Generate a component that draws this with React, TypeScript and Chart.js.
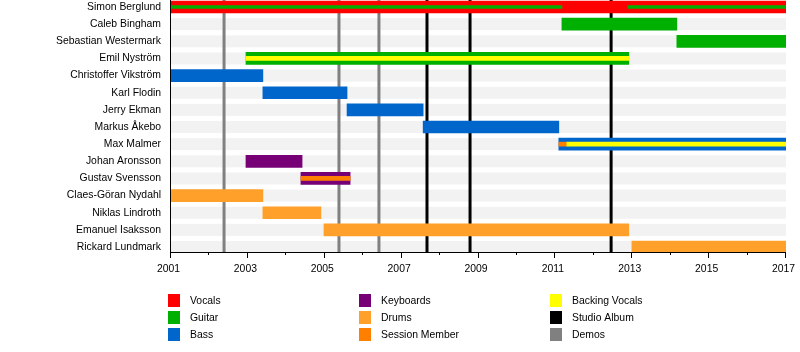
import React, { useEffect, useRef } from "react";
import { Chart, registerables } from "chart.js";

Chart.register(...registerables);

type Row = [string, number, number];

const members = [
  "Simon Berglund",
  "Caleb Bingham",
  "Sebastian Westermark",
  "Emil Nyström",
  "Christoffer Vikström",
  "Karl Flodin",
  "Jerry Ekman",
  "Markus Åkebo",
  "Max Malmer",
  "Johan Aronsson",
  "Gustav Svensson",
  "Claes-Göran Nydahl",
  "Niklas Lindroth",
  "Emanuel Isaksson",
  "Rickard Lundmark",
];

const vocals: Row[] = [["Simon Berglund", 2001, 2017]];
const guitar: Row[] = [
  ["Caleb Bingham", 2011.17, 2014.16],
  ["Sebastian Westermark", 2014.16, 2017],
  ["Emil Nyström", 2002.95, 2012.91],
];
const bass: Row[] = [
  ["Christoffer Vikström", 2001, 2003.39],
  ["Karl Flodin", 2003.39, 2005.58],
  ["Jerry Ekman", 2005.58, 2007.56],
  ["Markus Åkebo", 2007.56, 2011.09],
  ["Max Malmer", 2011.09, 2017],
];
const keyboards: Row[] = [
  ["Johan Aronsson", 2002.95, 2004.41],
  ["Gustav Svensson", 2004.38, 2005.66],
];
const drums: Row[] = [
  ["Claes-Göran Nydahl", 2001, 2003.39],
  ["Niklas Lindroth", 2003.39, 2004.9],
  ["Emanuel Isaksson", 2004.98, 2012.91],
  ["Rickard Lundmark", 2012.99, 2017],
];
const guitarInner: Row[] = [
  ["Simon Berglund", 2001, 2011.17],
  ["Simon Berglund", 2012.89, 2017],
];
const backingVocalsInner: Row[] = [
  ["Emil Nyström", 2002.95, 2012.91],
  ["Max Malmer", 2011.3, 2017],
];
const sessionInner: Row[] = [
  ["Gustav Svensson", 2004.38, 2005.66],
  ["Max Malmer", 2011.09, 2011.3],
];

const studioAlbums = [2007.66, 2008.78, 2012.45];
const demos = [2002.38, 2005.37, 2006.41];

const xTicks = [2001, 2002, 2003, 2004, 2005, 2006, 2007, 2008, 2009, 2010, 2011, 2012, 2013, 2014, 2015, 2016, 2017];
const xTickLabels = ["2001", "", "2003", "", "2005", "", "2007", "", "2009", "", "2011", "", "2013", "", "2015", "", "2017"];

const legendLabels = [
  ["Vocals", "Guitar", "Bass"],
  ["Keyboards", "Drums", "Session Member"],
  ["Backing Vocals", "Studio Album", "Demos"],
];

const COLORS: Record<string, string> = {
  Vocals: "#ff0000",
  Guitar: "#00b000",
  Bass: "#0066cc",
  Keyboards: "#770077",
  Drums: "#ffa02a",
  "Session Member": "#ff8000",
  "Backing Vocals": "#ffff00",
  "Studio Album": "#000000",
  Demos: "#808080",
};

const FONT = "'Liberation Sans', Arial, Helvetica, sans-serif";
const FSIZE = 10.4;

const toData = (rows: Row[]) => rows.map(([n, s, e]) => ({ x: [s, e], y: members.indexOf(n) }));

export default function App() {
  const ref = useRef<HTMLCanvasElement>(null);

  useEffect(() => {
    document.body.style.margin = "0";
    if (!ref.current) return;

    const mainDs = (label: string, rows: Row[]) => ({
      label,
      data: toData(rows),
      backgroundColor: COLORS[label],
      barThickness: 12,
      grouped: false,
      order: 2,
      borderWidth: 0,
    });
    const innerDs = (label: string, rows: Row[], t: number) => ({
      label: label + " (inner)",
      data: toData(rows),
      backgroundColor: COLORS[label],
      barThickness: t,
      grouped: false,
      order: 1,
      borderWidth: 0,
    });

    const bgPlugin = {
      id: "bgBands",
      beforeDatasetsDraw(chart: any) {
        const { ctx, chartArea, scales } = chart;
        const xs = scales.x;
        const ys = scales.y;
        ctx.save();
        ctx.beginPath();
        ctx.rect(chartArea.left, chartArea.top, chartArea.right - chartArea.left, chartArea.bottom - chartArea.top);
        ctx.clip();
        ctx.fillStyle = "#f2f2f2";
        const x0 = xs.getPixelForValue(xTicks[0]);
        const x1 = xs.getPixelForValue(xTicks[xTicks.length - 1]);
        members.forEach((_, i) => {
          const y = ys.getPixelForValue(i);
          ctx.fillRect(x0, y - 6, x1 - x0, 12);
        });
        const drawLines = (years: number[], color: string) => {
          ctx.strokeStyle = color;
          ctx.lineWidth = 3;
          years.forEach((yr) => {
            const x = xs.getPixelForValue(yr);
            ctx.beginPath();
            ctx.moveTo(x, chartArea.top);
            ctx.lineTo(x, chartArea.bottom);
            ctx.stroke();
          });
        };
        drawLines(demos, COLORS["Demos"]);
        drawLines(studioAlbums, COLORS["Studio Album"]);
        ctx.restore();
      },
      afterDraw(chart: any) {
        const { ctx, chartArea, scales } = chart;
        const xs = scales.x;
        ctx.save();
        ctx.strokeStyle = "#000";
        ctx.lineWidth = 1;
        // axes lines
        ctx.beginPath();
        ctx.moveTo(chartArea.left - 0.5, chartArea.top);
        ctx.lineTo(chartArea.left - 0.5, chartArea.bottom);
        ctx.moveTo(chartArea.left - 1, chartArea.bottom - 0.5);
        ctx.lineTo(chartArea.right, chartArea.bottom - 0.5);
        ctx.stroke();
        xTicks.forEach((v, i) => {
          const x = Math.round(xs.getPixelForValue(v)) - 0.5;
          const len = xTickLabels[i] ? 6 : 3;
          ctx.beginPath();
          ctx.moveTo(x, chartArea.bottom - 1);
          ctx.lineTo(x, chartArea.bottom - 1 + len);
          ctx.stroke();
        });
        // legend
        const colX = [168, 359, 550];
        const rowY = [294, 311, 328];
        ctx.font = `${FSIZE}px ${FONT}`;
        ctx.textBaseline = "middle";
        ctx.textAlign = "left";
        legendLabels.forEach((col, ci) => {
          col.forEach((lab, ri) => {
            ctx.fillStyle = COLORS[lab];
            ctx.fillRect(colX[ci], rowY[ri], 12, 13);
            ctx.fillStyle = "#000";
            ctx.fillText(lab, colX[ci] + 22, rowY[ri] + 7);
          });
        });
        ctx.restore();
      },
    };

    const chart = new Chart(ref.current, {
      type: "bar",
      data: {
        datasets: [
          mainDs("Vocals", vocals),
          mainDs("Guitar", guitar),
          mainDs("Bass", bass),
          mainDs("Keyboards", keyboards),
          mainDs("Drums", drums),
          innerDs("Guitar", guitarInner, 3),
          innerDs("Backing Vocals", backingVocalsInner, 4),
          innerDs("Session Member", sessionInner, 4),
        ] as any,
      },
      options: {
        animation: false,
        responsive: false,
        indexAxis: "y",
        layout: { padding: { left: 0, right: 14, top: 0, bottom: 0 } },
        font: { family: FONT, size: FSIZE },
        plugins: { legend: { display: false }, tooltip: { enabled: false } },
        scales: {
          x: {
            type: "linear",
            min: 2001,
            max: 2017,
            offset: false,
            afterBuildTicks: (s: any) => {
              s.ticks = xTicks.map((v) => ({ value: v }));
            },
            afterFit: (s: any) => {
              s.height = 99;
              s.paddingLeft = 0;
              s.paddingRight = 0;
            },
            ticks: {
              autoSkip: false,
              maxRotation: 0,
              padding: 10,
              labelOffset: -2.5,
              color: "#000",
              font: { family: FONT, size: FSIZE },
              callback: (_v: any, i: number) => xTickLabels[i],
            },
            grid: { display: false, drawTicks: false },
            border: { display: false },
          },
          y: {
            type: "linear",
            reverse: true,
            offset: false,
            min: -0.41,
            max: 14.35,
            afterBuildTicks: (s: any) => {
              s.ticks = members.map((_, i) => ({ value: i }));
            },
            afterFit: (s: any) => {
              s.width = 171;
              s.paddingTop = 0;
              s.paddingBottom = 0;
            },
            ticks: {
              autoSkip: false,
              padding: 10,
              color: "#000",
              font: { family: FONT, size: FSIZE },
              callback: (v: any) => members[Math.round(v)] ?? "",
            },
            grid: { display: false, drawTicks: false },
            border: { display: false },
          },
        } as any,
      },
      plugins: [bgPlugin],
    } as any);

    return () => chart.destroy();
  }, []);

  return (
    <div style={{ width: 800, height: 352 }}>
      <canvas ref={ref} width={800} height={352} style={{ display: "block" }} />
    </div>
  );
}
